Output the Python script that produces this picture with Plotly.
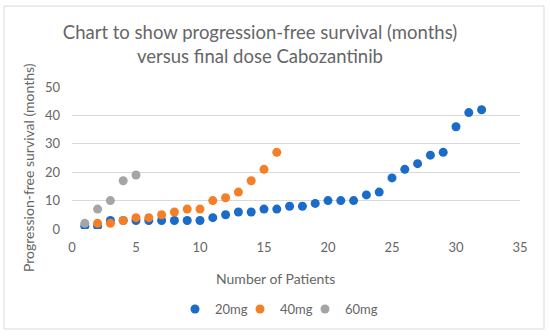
import plotly.graph_objects as go

patients_20 = list(range(1, 33))
pfs_20 = [1, 1, 3, 3, 3, 3, 3, 3, 3, 3, 4, 5, 6, 6, 7, 7, 8, 8, 9, 10, 10, 10, 12, 13, 18, 21, 23, 26, 27, 36, 41, 42]
patients_40 = list(range(2, 17))
pfs_40 = [2, 2, 3, 4, 4, 5, 6, 7, 7, 10, 11, 13, 17, 21, 27]
patients_60 = [1, 2, 3, 4, 5]
pfs_60 = [2, 7, 10, 17, 19]

FONT = "Lato"
GREY = "#666666"

L, R, T, B = 72, 30, 87, 107
W, H = 550, 336
pw, ph = W - L - R, H - T - B

def px(x):
    return (x - L) / pw

def py(y):
    return (H - B - y) / ph

fig = go.Figure()
fig.add_trace(go.Scatter(x=patients_20, y=pfs_20, mode="markers", name="20mg", legend="legend",
                         marker=dict(color="#1B6CC8", size=9)))
fig.add_trace(go.Scatter(x=patients_40, y=pfs_40, mode="markers", name="40mg", legend="legend2",
                         marker=dict(color="#F57F26", size=9)))
fig.add_trace(go.Scatter(x=patients_60, y=pfs_60, mode="markers", name="60mg", legend="legend3",
                         marker=dict(color="#A5A5A5", size=9)))

def leg(left):
    return dict(orientation="h", x=px(left), xanchor="left", y=py(309), yanchor="middle",
                font=dict(size=13, color=GREY), itemwidth=30, bgcolor="rgba(0,0,0,0)")

fig.update_layout(
    width=W, height=H,
    margin=dict(l=L, r=R, t=T, b=B),
    paper_bgcolor="white", plot_bgcolor="white",
    font=dict(family=FONT, color=GREY, size=12),
    title=dict(text="Chart to show progression-free survival (months)<br>versus final dose Cabozantinib",
               x=260 / W, xanchor="center", y=1 - 39 / H, yanchor="middle",
               font=dict(family=FONT, size=18.5, color=GREY)),
    showlegend=True,
    legend=leg(175),
    legend2=leg(240),
    legend3=leg(305),
    xaxis=dict(range=[0, 35], dtick=5, showgrid=False, zeroline=False, showline=False,
               ticks="", ticklabelstandoff=9, tickfont=dict(size=13, color=GREY)),
    yaxis=dict(range=[0, 50], dtick=10, showgrid=True, gridcolor="#D9D9D9", gridwidth=1,
               zeroline=False, showline=False, ticks="", ticklabelstandoff=11,
               tickfont=dict(size=13, color=GREY)),
    annotations=[
        dict(text="Number of Patients", x=px(275), y=py(278), xref="paper", yref="paper",
             showarrow=False, xanchor="center", yanchor="middle", font=dict(size=14, color=GREY)),
        dict(text="Progression-free survival (months)", x=px(28), y=py(168), xref="paper", yref="paper",
             showarrow=False, xanchor="center", yanchor="middle", textangle=-90,
             font=dict(size=14, color=GREY)),
    ],
    shapes=[
        dict(type="rect", xref="paper", yref="paper", x0=px(4), x1=px(544), y0=py(329), y1=py(6),
             line=dict(color="#D9D9D9", width=1), fillcolor="rgba(0,0,0,0)", layer="below"),
    ],
)

fig.write_html("out.html", config={"displayModeBar": False},
               post_script="document.body.style.margin='0px';")
